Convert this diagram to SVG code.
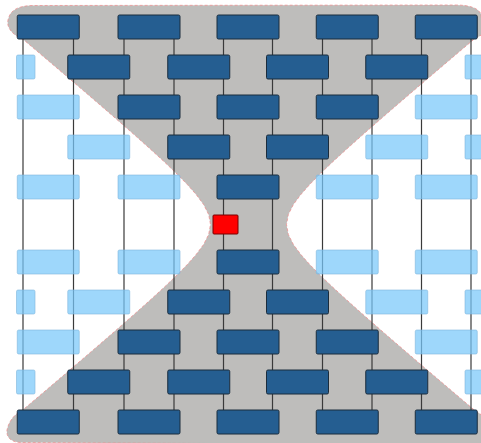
<svg xmlns="http://www.w3.org/2000/svg" width="481" height="443" viewBox="0 0 481 443">
<style>
.dk{fill:#255e91;stroke:#1b2c3c;stroke-width:1}
.lt{fill:rgb(120,199,250);fill-opacity:0.72;stroke:#7fb6dc;stroke-opacity:0.6;stroke-width:1}
.red{fill:#ff0000;stroke:#7a0000;stroke-width:1}
.ln{stroke:#3a3a3a;stroke-width:1.2;fill:none}
</style>
<rect width="481" height="443" fill="#ffffff"/>
<path id="cone" fill="#bebdbb" stroke="#f08a8a" stroke-width="0.9" stroke-dasharray="3 2" stroke-opacity="0.8"
 d="M23.3,39.5 C14,36 6,28 8,20 C10,10 18,6 32,5.5 L455,5 C470,5 478,8 481,14 L483,34 L473.7,39.5
 L456,54.5 L432.5,74.5 L409.1,94.5 L385.9,114.5 L363,134.5 L346.2,149.5 L332,162.5 L319.5,174.5 L309.7,184.5 L300.85,194.5 L293.4,204.5 L288.35,214.5 L286.5,224.5 L288.35,234.5 L293.4,244.5 L300.85,254.5 L309.7,264.5 L319.5,274.5 L332,286.5 L346.2,299.5 L363,314.5 L385.9,334.5 L409.1,354.5 L432.5,374.5 L456,394.5 L473.7,409.5
 L483,416 L483,445 L20,442.5 C10,442 6,436 7,430 C9,420 16,413 23.3,409.5
 L41,394.5 L64.5,374.5 L87.9,354.5 L111.1,334.5 L134,314.5 L150.8,299.5 L165,286.5 L177.5,274.5 L187.3,264.5 L196.15,254.5 L203.6,244.5 L208.65,234.5 L210.5,224.5 L208.65,214.5 L203.6,204.5 L196.15,194.5 L187.3,184.5 L177.5,174.5 L165,162.5 L150.8,149.5 L134,134.5 L111.1,114.5 L87.9,94.5 L64.5,74.5 L41,54.5 Z"/>
<g id="connectors">
<line class="ln" x1="23" y1="27" x2="23" y2="422"/>
<line class="ln" x1="73.5" y1="27" x2="73.5" y2="422"/>
<line class="ln" x1="124" y1="27" x2="124" y2="422"/>
<line class="ln" x1="174" y1="27" x2="174" y2="422"/>
<line class="ln" x1="223.5" y1="27" x2="223.5" y2="422"/>
<line class="ln" x1="272.5" y1="27" x2="272.5" y2="422"/>
<line class="ln" x1="322.5" y1="27" x2="322.5" y2="422"/>
<line class="ln" x1="372" y1="27" x2="372" y2="422"/>
<line class="ln" x1="421.5" y1="27" x2="421.5" y2="422"/>
<line class="ln" x1="471" y1="27" x2="471" y2="422"/>
</g>
<!-- row 0 -->
<g id="r0a"><rect class="dk" x="17.25" y="15" width="62" height="24" rx="1.5"/></g>
<g id="r0b"><rect class="dk" x="118" y="15" width="62" height="24" rx="1.5"/></g>
<g id="r0c"><rect class="dk" x="217" y="15" width="62" height="24" rx="1.5"/></g>
<g id="r0d"><rect class="dk" x="316.25" y="15" width="62" height="24" rx="1.5"/></g>
<g id="r0e"><rect class="dk" x="415.25" y="15" width="62" height="24" rx="1.5"/></g>
<!-- row 1 -->
<g id="r1L"><rect class="lt" x="16.5" y="55" width="18.5" height="24" rx="1.5"/></g>
<g id="r1a"><rect class="dk" x="67.75" y="55" width="62" height="24" rx="1.5"/></g>
<g id="r1b"><rect class="dk" x="167.75" y="55" width="62" height="24" rx="1.5"/></g>
<g id="r1c"><rect class="dk" x="266.5" y="55" width="62" height="24" rx="1.5"/></g>
<g id="r1d"><rect class="dk" x="365.75" y="55" width="62" height="24" rx="1.5"/></g>
<g id="r1R"><rect class="lt" x="465" y="55" width="62" height="24" rx="1.5"/></g>
<!-- row 2 -->
<g id="r2a"><rect class="lt" x="17.25" y="95" width="62" height="24" rx="1.5"/></g>
<g id="r2b"><rect class="dk" x="118" y="95" width="62" height="24" rx="1.5"/></g>
<g id="r2c"><rect class="dk" x="217" y="95" width="62" height="24" rx="1.5"/></g>
<g id="r2d"><rect class="dk" x="316.25" y="95" width="62" height="24" rx="1.5"/></g>
<g id="r2e"><rect class="lt" x="415.25" y="95" width="62" height="24" rx="1.5"/></g>
<!-- row 3 -->
<g id="r3a"><rect class="lt" x="67.75" y="135" width="62" height="24" rx="1.5"/></g>
<g id="r3b"><rect class="dk" x="167.75" y="135" width="62" height="24" rx="1.5"/></g>
<g id="r3c"><rect class="dk" x="266.5" y="135" width="62" height="24" rx="1.5"/></g>
<g id="r3d"><rect class="lt" x="365.75" y="135" width="62" height="24" rx="1.5"/></g>
<g id="r3R"><rect class="lt" x="465" y="135" width="62" height="24" rx="1.5"/></g>
<!-- row 4 -->
<g id="r4a"><rect class="lt" x="17.25" y="175" width="62" height="24" rx="1.5"/></g>
<g id="r4b"><rect class="lt" x="118" y="175" width="62" height="24" rx="1.5"/></g>
<g id="r4c"><rect class="dk" x="217" y="175" width="62" height="24" rx="1.5"/></g>
<g id="r4d"><rect class="lt" x="316.25" y="175" width="62" height="24" rx="1.5"/></g>
<g id="r4e"><rect class="lt" x="415.25" y="175" width="62" height="24" rx="1.5"/></g>
<!-- event -->
<g id="event"><rect class="red" x="213" y="215" width="25" height="19" rx="1"/></g>
<!-- row 5 -->
<g id="r5a"><rect class="lt" x="17.25" y="250" width="62" height="24" rx="1.5"/></g>
<g id="r5b"><rect class="lt" x="118" y="250" width="62" height="24" rx="1.5"/></g>
<g id="r5c"><rect class="dk" x="217" y="250" width="62" height="24" rx="1.5"/></g>
<g id="r5d"><rect class="lt" x="316.25" y="250" width="62" height="24" rx="1.5"/></g>
<g id="r5e"><rect class="lt" x="415.25" y="250" width="62" height="24" rx="1.5"/></g>
<!-- row 6 -->
<g id="r6L"><rect class="lt" x="16.5" y="290" width="18.5" height="24" rx="1.5"/></g>
<g id="r6a"><rect class="lt" x="67.75" y="290" width="62" height="24" rx="1.5"/></g>
<g id="r6b"><rect class="dk" x="167.75" y="290" width="62" height="24" rx="1.5"/></g>
<g id="r6c"><rect class="dk" x="266.5" y="290" width="62" height="24" rx="1.5"/></g>
<g id="r6d"><rect class="lt" x="365.75" y="290" width="62" height="24" rx="1.5"/></g>
<g id="r6R"><rect class="lt" x="465" y="290" width="62" height="24" rx="1.5"/></g>
<!-- row 7 -->
<g id="r7a"><rect class="lt" x="17.25" y="330" width="62" height="24" rx="1.5"/></g>
<g id="r7b"><rect class="dk" x="118" y="330" width="62" height="24" rx="1.5"/></g>
<g id="r7c"><rect class="dk" x="217" y="330" width="62" height="24" rx="1.5"/></g>
<g id="r7d"><rect class="dk" x="316.25" y="330" width="62" height="24" rx="1.5"/></g>
<g id="r7e"><rect class="lt" x="415.25" y="330" width="62" height="24" rx="1.5"/></g>
<!-- row 8 -->
<g id="r8L"><rect class="lt" x="16.5" y="370" width="18.5" height="24" rx="1.5"/></g>
<g id="r8a"><rect class="dk" x="67.75" y="370" width="62" height="24" rx="1.5"/></g>
<g id="r8b"><rect class="dk" x="167.75" y="370" width="62" height="24" rx="1.5"/></g>
<g id="r8c"><rect class="dk" x="266.5" y="370" width="62" height="24" rx="1.5"/></g>
<g id="r8d"><rect class="dk" x="365.75" y="370" width="62" height="24" rx="1.5"/></g>
<g id="r8R"><rect class="lt" x="465" y="370" width="62" height="24" rx="1.5"/></g>
<!-- row 9 -->
<g id="r9a"><rect class="dk" x="17.25" y="410" width="62" height="24" rx="1.5"/></g>
<g id="r9b"><rect class="dk" x="118" y="410" width="62" height="24" rx="1.5"/></g>
<g id="r9c"><rect class="dk" x="217" y="410" width="62" height="24" rx="1.5"/></g>
<g id="r9d"><rect class="dk" x="316.25" y="410" width="62" height="24" rx="1.5"/></g>
<g id="r9e"><rect class="dk" x="415.25" y="410" width="62" height="24" rx="1.5"/></g>
</svg>
